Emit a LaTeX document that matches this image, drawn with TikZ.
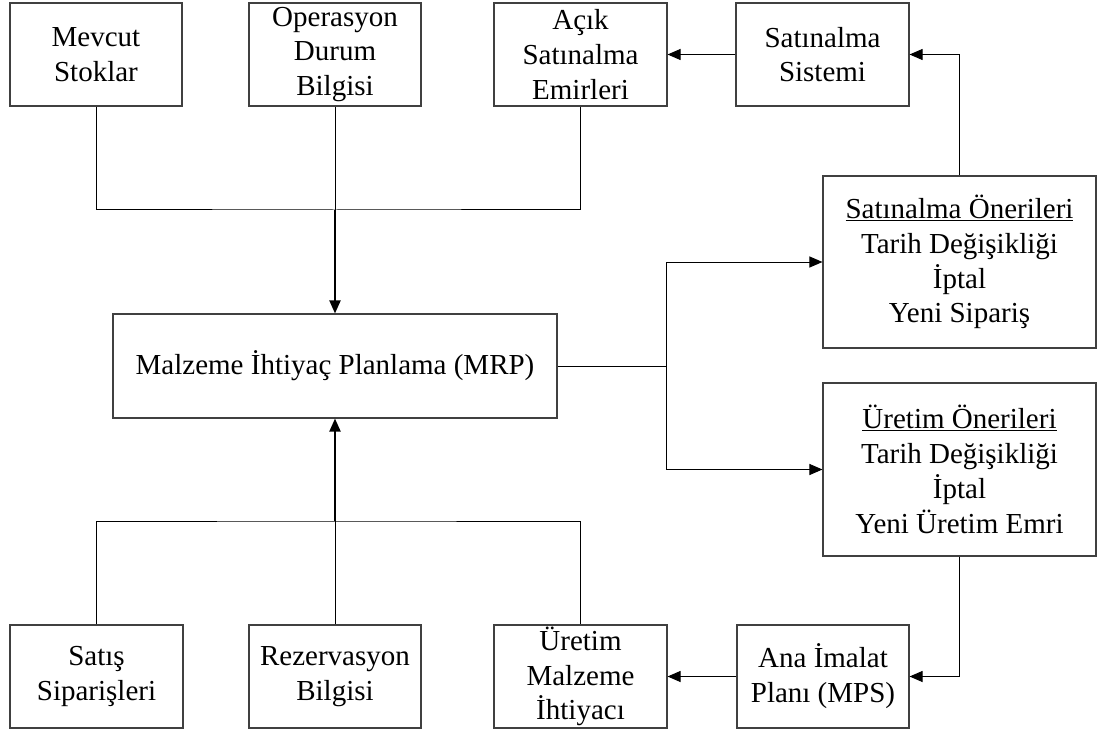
\documentclass[tikz,border=0pt]{standalone}
\usepackage{fontspec}
\setmainfont{Liberation Serif}
\usetikzlibrary{arrows.meta}
\begin{document}
\begin{tikzpicture}[x=1pt,y=-1pt,
  box/.style={draw=black!75,line width=1.1pt,fill=white,inner sep=0pt,
    align=center,minimum width=172pt,minimum height=103pt,
    font=\fontsize{29}{34.8}\selectfont},
  link/.style={draw=black,line width=1pt},
  flow/.style={link,-{Triangle[length=13pt,width=11pt]}},
  mainflow/.style={flow,line width=2pt}]
\useasboundingbox (0,0) rectangle (1099,735);

% top row of inputs
\node[box] (mev) at (96,54.5) {Mevcut\\Stoklar};
\node[box] (ops) at (335,54.5) {Operasyon\\Durum\\Bilgisi};
\node[box,minimum width=173pt] (ack) at (580.5,54.5) {Açık\\Satınalma\\Emirleri};
\node[box,minimum width=173pt] (sis) at (822.5,54.5) {Satınalma\\Sistemi};

% central planning box
\node[box,minimum width=444pt,minimum height=104pt] (mrp) at (335,366)
  {Malzeme İhtiyaç Planlama (MRP)};

% suggestion boxes on the right
\node[box,minimum width=273pt,minimum height=172pt] (son) at (959.5,262)
  {\underline{Satınalma Önerileri}\\Tarih Değişikliği\\İptal\\Yeni Sipariş};
\node[box,minimum width=273pt,minimum height=173pt] (uon) at (959.5,469.5)
  {\underline{Üretim Önerileri}\\Tarih Değişikliği\\İptal\\Yeni Üretim Emri};

% bottom row
\node[box,minimum width=173pt] (sat) at (96.5,676.5) {Satış\\Siparişleri};
\node[box] (rez) at (335,676.5) {Rezervasyon\\Bilgisi};
\node[box,minimum width=173pt] (umi) at (580.5,676.5) {Üretim\\Malzeme\\İhtiyacı};
\node[box,minimum width=172pt] (mps) at (823,676.5) {Ana İmalat\\Planı (MPS)};

% junction points
\coordinate (jt) at (335,210);
\coordinate (jb) at (335,521);
\coordinate (jr) at (666,366);

% inputs from above
\draw[link] (mev.south) |- (jt) -| (ack.south);
\draw[link] (ops.south) -- (jt);
\draw[mainflow] (jt) -- (mrp.north);

% inputs from below
\draw[link] (sat.north) |- (jb) -| (umi.north);
\draw[link] (rez.north) -- (jb);
\draw[mainflow] (jb) -- (mrp.south);

% outputs to the right
\draw[link] (mrp.east) -- (jr);
\draw[flow] (jr) |- (son.west);
\draw[flow] (jr) |- (uon.west);

% purchasing loop
\draw[flow] (son.north) |- (sis.east);
\draw[flow] (sis.west) -- (ack.east);

% production loop
\draw[flow] (uon.south) |- (mps.east);
\draw[flow] (mps.west) -- (umi.east);
\end{tikzpicture}
\end{document}
